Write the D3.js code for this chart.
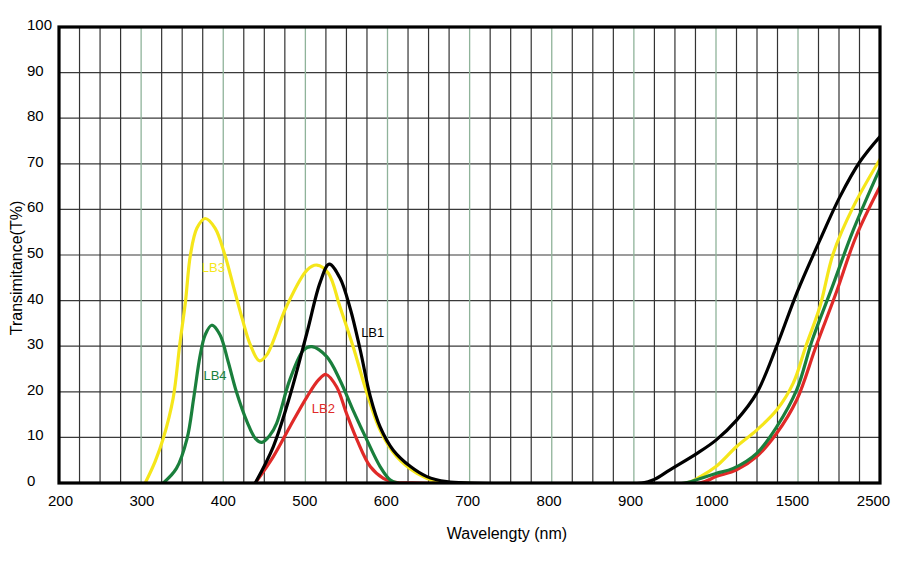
<!DOCTYPE html>
<html><head><meta charset="utf-8">
<script src="https://cdn.jsdelivr.net/npm/d3@7"></script>
<style>body{margin:0;background:#fff}svg{display:block}text{font-family:"Liberation Sans",Arial,Helvetica,sans-serif}</style>
</head><body><svg id="c" width="900" height="562"></svg>
<script>
// ---- data ----
const xBreaks = [200, 1000, 1500, 2500];
const xTickLabels = [200, 300, 400, 500, 600, 700, 800, 900, 1000, 1500, 2500];
const xGridMinor = [225,250,275,325,350,375,425,450,475,525,550,575,625,650,675,725,750,775,825,850,875,925,950,975,1125,1250,1375,1750,2000,2250];
const xGridMajor = [300,400,500,600,700,800,900,1000,1500];
const yTicks = [0,10,20,30,40,50,60,70,80,90,100];

const lb1Wl  = [439,461,481,502,518,529,542,555,567,579,591,607,628,648,672,700,910,925,944,977,1000,1126,1248,1370,1492,1768,2012,2256,2500];
const lb1Val = [0,8,19,33,44,48,45,38,29,19,12.3,7.2,3.6,1.4,0.3,0,0,0.8,2.9,6.5,9.4,13.8,19.7,30,41.6,53.3,62.8,70.5,76];
const lb2Wl  = [439,461,481,502,516,525,538,550,563,579,595,607,640,980,1000,1126,1248,1370,1492,1720,1963,2207,2500];
const lb2Val = [0,5.8,12.3,18.9,22.6,23.8,21.1,15.3,9.4,3.6,1,0.2,0,0,1.4,2.9,5.8,10.9,18.2,30,41.6,54,65];
const lb3Wl  = [305,317,327,339,347,354,360,368,378,390,402,412,423,433,444,453,477,502,514,528,542,558,575,591,611,636,660,685,964,981,1000,1126,1248,1370,1471,1594,1768,1931,2175,2500];
const lb3Val = [0,4.7,9.8,18.6,30.3,39.8,50,55.9,58,55.9,50,43.4,36.1,30.3,26.8,28.1,38.7,46.7,47.8,46,38.7,30,19.7,11.6,5.8,2.1,0.3,0,0,1.4,3.6,8,11.6,16,21.9,29.9,38.7,50.4,60.6,71];
const lb4Wl  = [327,343,356,364,372,378,386,396,406,416,429,439,447,457,465,481,498,508,526,542,558,575,591,603,612,962,981,1000,1105,1248,1370,1492,1675,1918,2175,2500];
const lb4Val = [0,3.2,9.8,18.6,28.1,32.5,34.6,32.5,26.6,20,13.4,9.8,8.9,10.5,13.1,22.6,29.2,29.9,27.7,22.6,16,9.4,3.6,0.7,0,0,1,2.1,3.2,6.5,12.3,20.4,31.4,43,55.5,69];

const seriesNames = ["LB3","LB2","LB4","LB1"];
const seriesColors = {LB1:"#000000", LB2:"#e02a28", LB3:"#f5e61a", LB4:"#1a7f3c"};
const seriesData = {LB1:[lb1Wl,lb1Val], LB2:[lb2Wl,lb2Val], LB3:[lb3Wl,lb3Val], LB4:[lb4Wl,lb4Val]};
const labelPos = {LB1:[582,32], LB2:[522,15.4], LB3:[388,46.3], LB4:[390,22.6]};

// ---- layout ----
const svg = d3.select("#c");
const pL = 59, pR = 880, pT = 27, pB = 483;
const x = d3.scaleLinear().domain(xBreaks).range([pL, 716, 798, pR]);
const xLab = d3.scaleLinear().domain(xBreaks).range([60, 711.5, 792, 873]);
const y = d3.scaleLinear().domain([0,100]).range([pB, pT]);

svg.append("defs").append("clipPath").attr("id","clip").append("rect")
  .attr("x", pL).attr("y", pT - 5).attr("width", pR - pL).attr("height", pB - pT + 5);

const g = svg.append("g");
// horizontal grid
g.selectAll("line.h").data(yTicks.slice(1,-1)).join("line")
  .attr("x1", pL).attr("x2", pR).attr("y1", d=>y(d)).attr("y2", d=>y(d))
  .attr("stroke", "#3a3a3a").attr("stroke-width", 1.2);
// vertical grid
g.selectAll("line.vm").data(xGridMinor).join("line")
  .attr("x1", d=>x(d)).attr("x2", d=>x(d)).attr("y1", pT).attr("y2", pB)
  .attr("stroke", "#333").attr("stroke-width", 1.2);
g.selectAll("line.vM").data(xGridMajor).join("line")
  .attr("x1", d=>x(d)).attr("x2", d=>x(d)).attr("y1", pT).attr("y2", pB)
  .attr("stroke", "#8fb39a").attr("stroke-width", 1.3);

// curves
const line = d3.line().curve(d3.curveCatmullRom.alpha(0.5)).x(d=>x(d[0])).y(d=>y(d[1]));
const cg = svg.append("g").attr("clip-path","url(#clip)");
seriesNames.forEach(n => {
  const [w, v] = seriesData[n];
  const pts = w.map((d,i)=>[d, v[i]]);
  cg.append("path").datum(pts).attr("d", line)
    .attr("fill","none").attr("stroke", seriesColors[n]).attr("stroke-width", 3.2)
    .attr("stroke-linejoin","round").attr("stroke-linecap","round");
});

// frame
svg.append("rect").attr("x", pL).attr("y", pT).attr("width", pR-pL).attr("height", pB-pT)
  .attr("fill","none").attr("stroke","#000").attr("stroke-width",3.2);

// axes labels
const xAxis = d3.axisBottom(xLab).tickValues(xTickLabels).tickSize(0).tickPadding(0).tickFormat(d3.format("d"));
const xa = svg.append("g").attr("transform", `translate(0,${pB})`).call(xAxis);
xa.select(".domain").remove();
xa.selectAll("text").attr("font-size", 15).attr("fill","#000").attr("dy", null).attr("y", 23)
  .attr("font-family", '"Liberation Sans", Arial, sans-serif');

const ya = svg.append("g");
ya.selectAll("text").data(yTicks).join("text")
  .attr("x", 27).attr("y", d=>y(d)+3).attr("font-size", 15).attr("fill","#000")
  .text(d=>d);

svg.append("text").attr("transform", `translate(22,268) rotate(-90)`)
  .attr("text-anchor","middle").attr("font-size",16).text("Transimitance(T%)");
svg.append("text").attr("x", 507).attr("y", 539)
  .attr("text-anchor","middle").attr("font-size",16).text("Wavelengty (nm)");

// series labels
Object.keys(labelPos).forEach(n => {
  svg.append("text").attr("x", x(labelPos[n][0])).attr("y", y(labelPos[n][1]))
    .attr("text-anchor","middle").attr("font-size",13).attr("fill", seriesColors[n]).text(n);
});
</script></body></html>
